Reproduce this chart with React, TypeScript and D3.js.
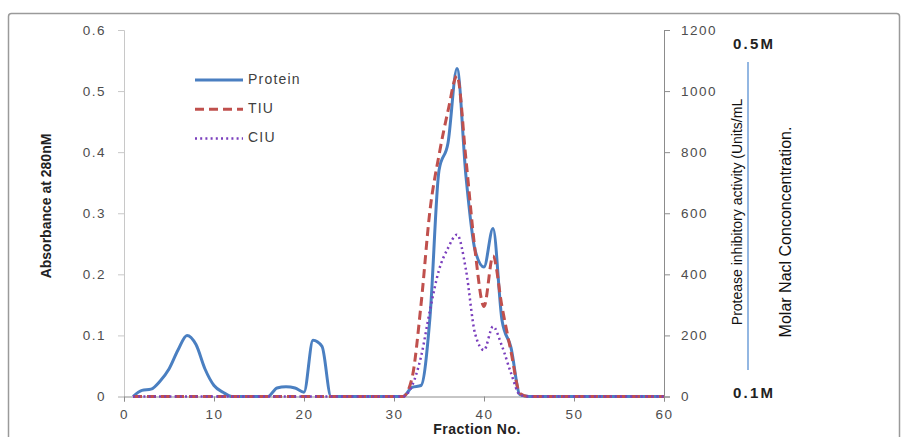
import { useEffect, useRef } from 'react';
import * as d3 from 'd3';

// Fractions 1..60 from the column run
const FRACTIONS = [
  1, 2, 3, 4, 5, 6, 7, 8, 9, 10, 11, 12, 13, 14, 15, 16, 17, 18, 19, 20,
  21, 22, 23, 24, 25, 26, 27, 28, 29, 30, 31, 32, 33, 34, 35, 36, 37, 38, 39, 40,
  41, 42, 43, 44, 45, 46, 47, 48, 49, 50, 51, 52, 53, 54, 55, 56, 57, 58, 59, 60,
];

// Absorbance at 280 nm (left axis)
const PROTEIN = [
  0, 0.01, 0.012, 0.025, 0.045, 0.076, 0.1, 0.085, 0.045, 0.018,
  0.007, 0, 0, 0, 0, 0, 0.014, 0.016, 0.014, 0.007,
  0.092, 0.082, 0, 0, 0, 0, 0, 0, 0, 0,
  0, 0.015, 0.018, 0.13, 0.37, 0.415, 0.537, 0.36, 0.24, 0.212,
  0.275, 0.125, 0.08, 0.003, 0, 0, 0, 0, 0, 0,
  0, 0, 0, 0, 0, 0, 0, 0, 0, 0,
];

// Trypsin inhibitory units (right axis)
const TIU = [
  0, 0, 0, 0, 0, 0, 0, 0, 0, 0,
  0, 0, 0, 0, 0, 0, 0, 0, 0, 0,
  0, 0, 0, 0, 0, 0, 0, 0, 0, 0,
  0, 60, 300, 610, 790, 935, 1050, 775, 480, 295,
  460, 294, 147, 10, 0, 0, 0, 0, 0, 0,
  0, 0, 0, 0, 0, 0, 0, 0, 0, 0,
];

// Chymotrypsin inhibitory units (right axis)
const CIU = [
  0, 0, 0, 0, 0, 0, 0, 0, 0, 0,
  0, 0, 0, 0, 0, 0, 0, 0, 0, 0,
  0, 0, 0, 0, 0, 0, 0, 0, 0, 0,
  0, 35, 130, 283, 414, 486, 530, 414, 207, 152,
  229, 165, 77, 5, 0, 0, 0, 0, 0, 0,
  0, 0, 0, 0, 0, 0, 0, 0, 0, 0,
];

const LEFT_TICKS = [0, 0.1, 0.2, 0.3, 0.4, 0.5, 0.6];
const RIGHT_TICKS = [0, 200, 400, 600, 800, 1000, 1200];
const X_TICKS = [0, 10, 20, 30, 40, 50, 60];

const SERIES = [
  { name: 'Protein', values: PROTEIN, axis: 'left', color: '#4a7fc1', width: 3, dash: null },
  { name: 'TIU', values: TIU, axis: 'right', color: '#c0504d', width: 3, dash: '9 5' },
  { name: 'CIU', values: CIU, axis: 'right', color: '#7b3fbd', width: 2.5, dash: '2 3.2' },
];

const FONT = 'Liberation Sans, Arial, sans-serif';

export default function App() {
  const svgRef = useRef<SVGSVGElement | null>(null);

  useEffect(() => {
    if (!svgRef.current) return;
    const svg = d3.select(svgRef.current);
    svg.selectAll('*').remove();

    const x0 = 124, x1 = 664, yTop = 30, yBot = 396.5;

    const x = d3.scaleLinear().domain([0, 60]).range([x0, x1]);
    const yL = d3.scaleLinear().domain([0, 0.6]).range([yBot, yTop]);
    const yR = d3.scaleLinear().domain([0, 1200]).range([yBot, yTop]);

    // outer frame
    svg.append('rect')
      .attr('x', 8.5).attr('y', 13.5)
      .attr('width', 891).attr('height', 440)
      .attr('rx', 3)
      .attr('fill', 'none')
      .attr('stroke', '#9a9a9a')
      .attr('stroke-width', 1.5);

    const tickStyle = (g: any) => {
      g.selectAll('text')
        .attr('font-family', FONT)
        .attr('font-size', 13.5)
        .attr('letter-spacing', 1.5)
        .attr('fill', '#4d4d4d');
    };

    // left axis
    const gl = svg.append('g').attr('transform', `translate(${x0},0)`)
      .call(d3.axisLeft(yL).tickValues(LEFT_TICKS).tickSize(6).tickPadding(12)
        .tickFormat((d: any) => (d === 0 ? '0' : d3.format('.1f')(d))));
    gl.select('.domain').attr('stroke', '#c8c8c8');
    gl.selectAll('line').attr('stroke', '#c8c8c8');
    tickStyle(gl);

    // right axis
    const gr = svg.append('g').attr('transform', `translate(${x1},0)`)
      .call(d3.axisRight(yR).tickValues(RIGHT_TICKS).tickSize(6).tickPadding(11)
        .tickFormat((d: any) => String(d)));
    gr.select('.domain').attr('stroke', '#8c8c8c');
    gr.selectAll('line').attr('stroke', '#8c8c8c');
    tickStyle(gr);

    // x axis
    const gx = svg.append('g').attr('transform', `translate(0,${yBot})`)
      .call(d3.axisBottom(x).tickValues(X_TICKS).tickSize(5).tickPadding(8));
    gx.select('.domain').attr('stroke', '#8c8c8c');
    gx.selectAll('line').attr('stroke', '#8c8c8c');
    tickStyle(gx);

    // series
    SERIES.forEach(s => {
      const ys = s.axis === 'left' ? yL : yR;
      const line = d3.line<number>()
        .x((_, i) => x(FRACTIONS[i]))
        .y(d => ys(d))
        .curve(d3.curveMonotoneX);
      const p = svg.append('path')
        .attr('d', line(s.values))
        .attr('fill', 'none')
        .attr('stroke', s.color)
        .attr('stroke-width', s.width)
        .attr('stroke-linejoin', 'round');
      if (s.dash) p.attr('stroke-dasharray', s.dash);
    });

    // legend
    SERIES.forEach((s, i) => {
      const ly = 80 + i * 29.3;
      const l = svg.append('line')
        .attr('x1', 195).attr('x2', 243)
        .attr('y1', ly).attr('y2', ly)
        .attr('stroke', s.color)
        .attr('stroke-width', s.width);
      if (s.dash) l.attr('stroke-dasharray', s.dash);
      svg.append('text')
        .attr('x', 248).attr('y', ly)
        .attr('dominant-baseline', 'middle')
        .attr('font-family', FONT)
        .attr('font-size', 14)
        .attr('letter-spacing', 1.2)
        .attr('fill', '#404040')
        .text(s.name);
    });

    // axis titles
    svg.append('text')
      .attr('transform', 'translate(51,206) rotate(-90)')
      .attr('text-anchor', 'middle')
      .attr('font-family', FONT)
      .attr('font-weight', 'bold')
      .attr('font-size', 14)
      .attr('fill', '#222')
      .text('Absorbance at 280nM');

    svg.append('text')
      .attr('x', 477).attr('y', 434)
      .attr('text-anchor', 'middle')
      .attr('font-family', FONT)
      .attr('font-weight', 'bold')
      .attr('font-size', 14)
      .attr('letter-spacing', 0.5)
      .attr('fill', '#222')
      .text('Fraction No.');

    svg.append('text')
      .attr('transform', 'translate(742,212) rotate(-90)')
      .attr('text-anchor', 'middle')
      .attr('font-family', FONT)
      .attr('font-size', 14)
      .attr('fill', '#111')
      .text('Protease inhibitory activity (Units/mL');

    svg.append('text')
      .attr('transform', 'translate(791,232) rotate(-90)')
      .attr('text-anchor', 'middle')
      .attr('font-family', FONT)
      .attr('font-size', 16)
      .attr('fill', '#111')
      .text('Molar Nacl Conconcentration.');

    // NaCl gradient marker
    svg.append('line')
      .attr('x1', 748).attr('x2', 748)
      .attr('y1', 62).attr('y2', 370)
      .attr('stroke', '#6f9fd8')
      .attr('stroke-width', 1.5);

    svg.append('text')
      .attr('x', 733).attr('y', 49)
      .attr('font-family', FONT)
      .attr('font-weight', 'bold')
      .attr('font-size', 15)
      .attr('letter-spacing', 2.2)
      .attr('fill', '#222')
      .text('0.5M');

    svg.append('text')
      .attr('x', 733).attr('y', 398)
      .attr('font-family', FONT)
      .attr('font-weight', 'bold')
      .attr('font-size', 15)
      .attr('letter-spacing', 2.2)
      .attr('fill', '#222')
      .text('0.1M');
  }, []);

  return (
    <svg
      ref={svgRef}
      width={903}
      height={437}
      style={{ position: 'absolute', left: 0, top: 0, background: '#fff' }}
    />
  );
}
